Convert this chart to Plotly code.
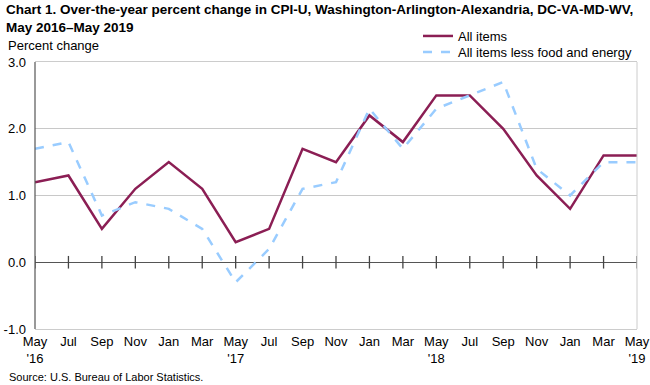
import plotly.graph_objects as go

months = ["May", "Jul", "Sep", "Nov", "Jan", "Mar", "May", "Jul", "Sep", "Nov",
          "Jan", "Mar", "May", "Jul", "Sep", "Nov", "Jan", "Mar", "May"]
tick_labels = ["May<br>'16", "Jul", "Sep", "Nov", "Jan", "Mar", "May<br>'17", "Jul", "Sep", "Nov",
               "Jan", "Mar", "May<br>'18", "Jul", "Sep", "Nov", "Jan", "Mar", "May<br>'19"]
all_items = [1.2, 1.3, 0.5, 1.1, 1.5, 1.1, 0.3, 0.5, 1.7, 1.5,
             2.2, 1.8, 2.5, 2.5, 2.0, 1.3, 0.8, 1.6, 1.6]
core_items = [1.7, 1.8, 0.7, 0.9, 0.8, 0.5, -0.3, 0.2, 1.1, 1.2,
              2.3, 1.7, 2.3, 2.5, 2.7, 1.4, 1.0, 1.5, 1.5]
y_ticks = [-1.0, 0.0, 1.0, 2.0, 3.0]

x = list(range(len(months)))
FONT = "Arial, Liberation Sans, sans-serif"

L, R, T, B = 35, 13, 62, 56
W, H = 650, 385
PW, PH = W - L - R, H - T - B


def px_x(p):
    return (p - L) / PW


def px_y(p):
    return (H - B - p) / PH


fig = go.Figure()
# tick marks on the zero line
fig.add_trace(go.Scatter(
    x=x, y=[0] * len(x), mode="markers",
    marker=dict(symbol="line-ns-open", size=9, color="#444444",
                line=dict(color="#444444", width=1.3)),
    showlegend=False, hoverinfo="skip"))
fig.add_trace(go.Scatter(
    x=x, y=all_items, mode="lines", name="All items", legend="legend",
    line=dict(color="#8B1E54", width=2.5), cliponaxis=False))
fig.add_trace(go.Scatter(
    x=x, y=core_items, mode="lines", name="All items less food and energy", legend="legend2",
    line=dict(color="#99CCFF", width=2.5, dash="dash"), cliponaxis=False))

legend_common = dict(xanchor="left", yanchor="middle", bgcolor="rgba(0,0,0,0)",
                     itemwidth=30, font=dict(size=13, family=FONT))

fig.update_layout(
    width=W, height=H,
    margin=dict(l=L, r=R, t=T, b=B, autoexpand=False),
    paper_bgcolor="white", plot_bgcolor="white",
    font=dict(family=FONT, size=13, color="#000000"),
    showlegend=True,
    legend=dict(x=px_x(418), y=px_y(36), **legend_common),
    legend2=dict(x=px_x(418), y=px_y(52), **legend_common),
    xaxis=dict(range=[0, 18], tickmode="array", tickvals=x, ticktext=tick_labels,
               showgrid=False, zeroline=False, showline=True, linecolor="#cccccc",
               mirror=True, ticks="", tickfont=dict(size=13), fixedrange=True,
               automargin=False),
    yaxis=dict(range=[-1, 3], tickmode="array", tickvals=y_ticks,
               ticktext=[f"{v:.1f}" for v in y_ticks],
               showgrid=True, gridcolor="#c8c8c8", gridwidth=1,
               zeroline=True, zerolinecolor="#555555", zerolinewidth=1.2,
               showline=False, ticks="", tickfont=dict(size=13), fixedrange=True,
               ticklabelstandoff=8, automargin=False),
    shapes=[
        dict(type="line", xref="paper", yref="paper", x0=0, x1=0, y0=0, y1=1,
             line=dict(color="#555555", width=1.2)),
        dict(type="line", xref="paper", yref="paper", x0=1, x1=1, y0=0, y1=1,
             line=dict(color="#cccccc", width=1)),
    ],
    annotations=[
        dict(text="<b>Chart 1. Over-the-year percent change in CPI-U, Washington-Arlington-Alexandria, DC-VA-MD-WV,<br>May 2016\u2013May 2019</b>",
             xref="paper", yref="paper", x=px_x(4), y=px_y(0), xanchor="left", yanchor="top",
             align="left", showarrow=False, font=dict(size=13.5)),
        dict(text="Percent change", xref="paper", yref="paper", x=px_x(6), y=px_y(45),
             xanchor="left", yanchor="middle", showarrow=False, font=dict(size=13)),
        dict(text="Source: U.S. Bureau of Labor Statistics.", xref="paper", yref="paper",
             x=px_x(7), y=px_y(377), xanchor="left", yanchor="middle", showarrow=False,
             font=dict(size=11)),
    ],
)

fig.write_html("out.html", config={"displayModeBar": False},
               post_script="document.body.style.margin='0';document.body.style.overflow='hidden';")
